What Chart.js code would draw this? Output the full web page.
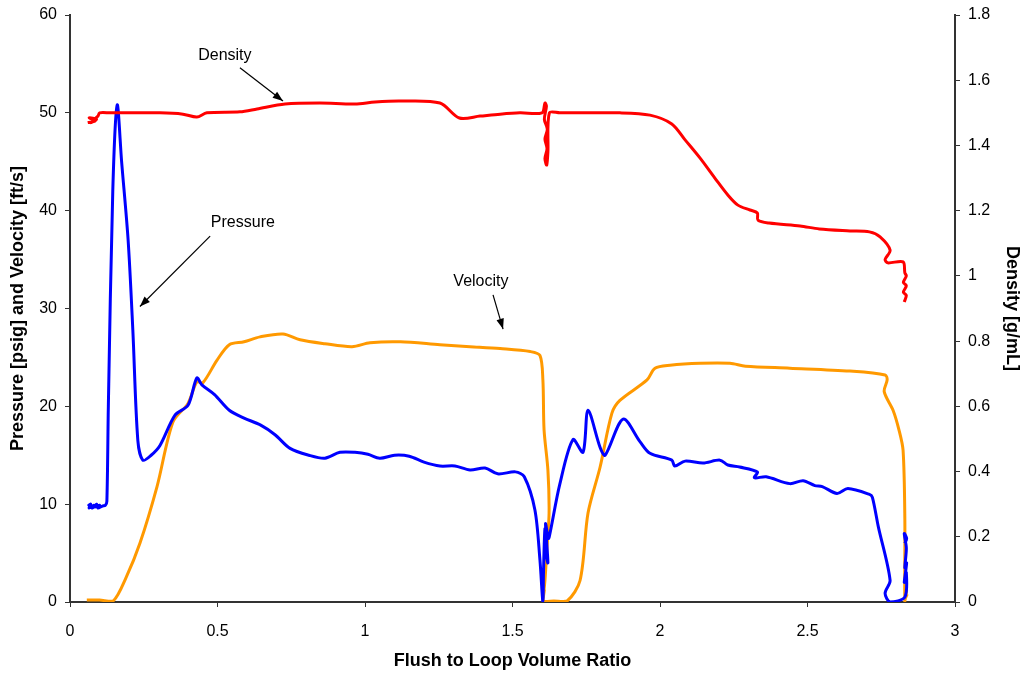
<!DOCTYPE html>
<html>
<head>
<meta charset="utf-8">
<script src="https://cdn.jsdelivr.net/npm/chart.js@4"></script>
<style>
  body { margin: 0; background: #fff; }
  #wrap { width: 1025px; height: 677px; }
</style>
</head>
<body>
<div id="wrap"><canvas id="c" width="1025" height="677"></canvas></div>
<script>
// pressure [psig] vs flush ratio
const pressureX = [0.06, 0.07, 0.065, 0.08, 0.075, 0.09, 0.085, 0.1, 0.095, 0.11, 0.12, 0.125, 0.13, 0.145, 0.16, 0.175, 0.197, 0.213, 0.23, 0.247, 0.275, 0.305, 0.356, 0.4, 0.43, 0.447, 0.49, 0.54, 0.59, 0.645, 0.695, 0.746, 0.81, 0.864, 0.915, 0.966, 1.01, 1.05, 1.1, 1.15, 1.2, 1.254, 1.305, 1.356, 1.407, 1.45, 1.51, 1.54, 1.576, 1.593, 1.603, 1.605, 1.61, 1.615, 1.608, 1.62, 1.612, 1.622, 1.627, 1.66, 1.705, 1.739, 1.756, 1.797, 1.814, 1.875, 1.932, 1.966, 2.04, 2.05, 2.085, 2.146, 2.203, 2.23, 2.27, 2.33, 2.32, 2.36, 2.44, 2.485, 2.525, 2.55, 2.6, 2.637, 2.71, 2.72, 2.74, 2.78, 2.763, 2.78, 2.83, 2.835, 2.828, 2.836, 2.83, 2.835, 2.828, 2.836, 2.83];
const pressureY = [9.8, 10.0, 9.6, 9.9, 9.6, 10.0, 9.7, 9.9, 9.6, 9.8, 9.9, 10.3, 20, 42, 50.8, 45, 37, 27.8, 16.5, 14.5, 15.0, 16.0, 19.1, 20.1, 22.9, 22.2, 21.2, 19.6, 18.8, 18.1, 17.1, 15.7, 15.0, 14.7, 15.3, 15.3, 15.1, 14.7, 15.0, 14.9, 14.3, 13.9, 13.9, 13.5, 13.7, 13.1, 13.3, 12.8, 9.4, 4.3, 0, 3, 7.5, 5, 6, 4, 8, 6.5, 7.0, 12, 16.6, 15.3, 19.6, 15.8, 15.0, 18.7, 16.4, 15.2, 14.5, 13.9, 14.4, 14.2, 14.5, 14.0, 13.8, 13.3, 12.7, 12.8, 12.1, 12.4, 11.9, 11.8, 11.1, 11.6, 11.0, 10.7, 7.7, 2.2, 0.9, 0, 0.5, 3, 2, 4, 3.5, 5.5, 7, 6.5, 6];

// velocity [ft/s]
const velocityX = [0.057, 0.1, 0.146, 0.19, 0.237, 0.295, 0.349, 0.4, 0.43, 0.45, 0.498, 0.54, 0.59, 0.644, 0.722, 0.78, 0.864, 0.956, 1.017, 1.12, 1.254, 1.356, 1.458, 1.56, 1.593, 1.603, 1.607, 1.62, 1.624, 1.617, 1.61, 1.603, 1.608, 1.604, 1.64, 1.685, 1.729, 1.756, 1.797, 1.837, 1.864, 1.956, 1.983, 2.034, 2.136, 2.237, 2.29, 2.44, 2.644, 2.763, 2.77, 2.76, 2.79, 2.81, 2.824, 2.83, 2.83, 2.836, 2.83, 2.838];
const velocityY = [0.2, 0.2, 0.1, 2.5, 6.0, 11.8, 18.4, 20.3, 22.5, 22.4, 24.7, 26.3, 26.6, 27.1, 27.4, 26.8, 26.4, 26.1, 26.5, 26.6, 26.3, 26.1, 25.9, 25.6, 25.2, 22.7, 17.6, 13.5, 9.1, 5.6, 2.2, 0.2, 1.2, 0.1, 0.1, 0.1, 2.2, 9.1, 13.8, 19.3, 20.6, 22.7, 23.9, 24.2, 24.4, 24.4, 24.1, 23.9, 23.6, 23.2, 22.7, 21.5, 19.6, 17.6, 15.5, 8.4, 0, 1.2, 0.3, 0.8];

// density [g/mL], right axis
const densityX = [0.06, 0.085, 0.065, 0.09, 0.07, 0.095, 0.1, 0.136, 0.305, 0.383, 0.43, 0.464, 0.576, 0.634, 0.729, 0.847, 0.966, 1.034, 1.12, 1.254, 1.32, 1.39, 1.458, 1.525, 1.6, 1.61, 1.615, 1.608, 1.618, 1.61, 1.617, 1.61, 1.616, 1.62, 1.625, 1.66, 1.864, 1.966, 2.04, 2.085, 2.136, 2.186, 2.23, 2.264, 2.305, 2.33, 2.332, 2.37, 2.475, 2.54, 2.644, 2.71, 2.746, 2.78, 2.763, 2.772, 2.824, 2.83, 2.835, 2.825, 2.835, 2.825, 2.835, 2.828];
const densityY = [1.47, 1.475, 1.485, 1.48, 1.47, 1.49, 1.5, 1.5, 1.5, 1.496, 1.487, 1.5, 1.503, 1.512, 1.527, 1.53, 1.527, 1.533, 1.536, 1.53, 1.484, 1.49, 1.496, 1.5, 1.5, 1.53, 1.52, 1.48, 1.45, 1.42, 1.39, 1.36, 1.34, 1.38, 1.5, 1.5, 1.5, 1.493, 1.466, 1.417, 1.361, 1.3, 1.248, 1.217, 1.202, 1.193, 1.171, 1.162, 1.153, 1.144, 1.138, 1.135, 1.12, 1.079, 1.05, 1.04, 1.043, 1.009, 1.0, 0.98, 0.97, 0.95, 0.94, 0.92];

const xTicks = [0, 0.5, 1, 1.5, 2, 2.5, 3];

const toPts = (xs, ys) => xs.map((x, i) => ({ x: x, y: ys[i] }));

// text + arrow labels, positioned in data units of x / left y
const notes = [
  { text: 'Density', tx: 0.525, ty: 55.9, from: [0.576, 54.6], to: [0.722, 51.2] },
  { text: 'Pressure', tx: 0.586, ty: 38.8, from: [0.475, 37.4], to: [0.237, 30.2] },
  { text: 'Velocity', tx: 1.393, ty: 32.8, from: [1.434, 31.4], to: [1.468, 27.9] }
];

const notePlugin = {
  id: 'notes',
  afterDatasetsDraw(chart) {
    const ctx = chart.ctx;
    const sx = chart.scales.x, sy = chart.scales.y;
    ctx.save();
    ctx.font = '16px "Liberation Sans", Arial, sans-serif';
    ctx.fillStyle = '#000';
    ctx.strokeStyle = '#000';
    ctx.lineWidth = 1.2;
    ctx.textAlign = 'center';
    ctx.textBaseline = 'middle';
    notes.forEach(n => {
      ctx.fillText(n.text, sx.getPixelForValue(n.tx), sy.getPixelForValue(n.ty));
      const x1 = sx.getPixelForValue(n.from[0]), y1 = sy.getPixelForValue(n.from[1]);
      const x2 = sx.getPixelForValue(n.to[0]), y2 = sy.getPixelForValue(n.to[1]);
      ctx.beginPath();
      ctx.moveTo(x1, y1);
      ctx.lineTo(x2, y2);
      ctx.stroke();
      const a = Math.atan2(y2 - y1, x2 - x1);
      ctx.beginPath();
      ctx.moveTo(x2, y2);
      ctx.lineTo(x2 - 11 * Math.cos(a - 0.35), y2 - 11 * Math.sin(a - 0.35));
      ctx.lineTo(x2 - 11 * Math.cos(a + 0.35), y2 - 11 * Math.sin(a + 0.35));
      ctx.closePath();
      ctx.fill();
    });
    ctx.restore();
  }
};

const fmt = v => String(+(+v).toFixed(2));
const font = { family: '"Liberation Sans", Arial, sans-serif', size: 16 };
const titleFont = { family: '"Liberation Sans", Arial, sans-serif', size: 18, weight: 'bold' };

// fixed side widths, no extra room reserved for end labels
const fixY = s => { s.width = 70; s.paddingTop = 0; s.paddingBottom = 0; };

new Chart(document.getElementById('c'), {
  type: 'scatter',
  data: {
    datasets: [
      { label: 'Pressure', data: toPts(pressureX, pressureY), yAxisID: 'y', borderColor: '#0000ff', showLine: true, borderWidth: 3, pointRadius: 0, tension: 0.3, order: 2 },
      { label: 'Velocity', data: toPts(velocityX, velocityY), yAxisID: 'y', borderColor: '#ff9900', showLine: true, borderWidth: 3, pointRadius: 0, tension: 0.3, order: 3 },
      { label: 'Density', data: toPts(densityX, densityY), yAxisID: 'y2', borderColor: '#ff0000', showLine: true, borderWidth: 3, pointRadius: 0, tension: 0.3, order: 1 }
    ]
  },
  options: {
    responsive: false,
    animation: false,
    layout: { padding: { top: 15, left: 0, right: 0, bottom: 0 } },
    plugins: { legend: { display: false }, tooltip: { enabled: false } },
    scales: {
      x: {
        type: 'linear', min: 0, max: 3,
        afterBuildTicks: s => { s.ticks = xTicks.map(v => ({ value: v })); },
        afterFit: s => { s.height = 75; s.paddingLeft = 0; s.paddingRight = 0; },
        ticks: { font: font, color: '#000', callback: fmt, padding: 15 },
        grid: { drawOnChartArea: false, drawTicks: true, tickLength: 5, color: '#333' },
        border: { color: '#333', width: 2 },
        title: { display: true, text: 'Flush to Loop Volume Ratio', font: titleFont, color: '#000', padding: { top: 5, bottom: 5 } }
      },
      y: {
        position: 'left', min: 0, max: 60,
        afterFit: fixY,
        ticks: { stepSize: 10, font: font, color: '#000', padding: 8 },
        grid: { drawOnChartArea: false, drawTicks: true, tickLength: 5, color: '#333' },
        border: { color: '#333', width: 2 },
        title: { display: true, text: 'Pressure [psig] and Velocity [ft/s]', font: titleFont, color: '#000', padding: { top: 7, bottom: 7 } }
      },
      y2: {
        position: 'right', min: 0, max: 1.8,
        afterFit: fixY,
        ticks: { stepSize: 0.2, font: font, color: '#000', callback: fmt, padding: 8 },
        grid: { drawOnChartArea: false, drawTicks: true, tickLength: 5, color: '#333' },
        border: { color: '#333', width: 2 },
        title: { display: true, text: 'Density [g/mL]', font: titleFont, color: '#000', padding: { top: 2, bottom: 2 } }
      }
    }
  },
  plugins: [notePlugin]
});
</script>
</body>
</html>
